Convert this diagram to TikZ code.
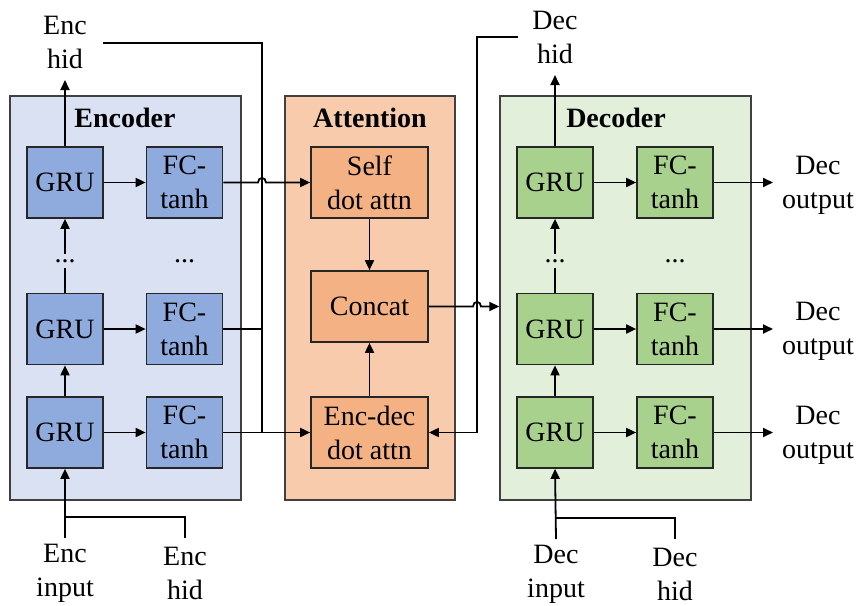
\documentclass[tikz,border=0pt]{standalone}
\usepackage{fontspec}
\setmainfont{Liberation Serif}
\usetikzlibrary{arrows.meta}
\definecolor{encbg}{HTML}{DAE1F3}
\definecolor{encbox}{HTML}{8FAADC}
\definecolor{attbg}{HTML}{F8CBAD}
\definecolor{attbox}{HTML}{F4B183}
\definecolor{decbg}{HTML}{E2EFDA}
\definecolor{decbox}{HTML}{A9D18E}
\definecolor{edge}{HTML}{404040}
\begin{document}
\begin{tikzpicture}[x=1pt,y=-1pt,
  font=\fontsize{28}{34}\selectfont,
  panel/.style={draw=edge, line width=1.4pt, inner sep=0pt},
  blk/.style={draw=black!85, line width=1.7pt, minimum width=76pt, minimum height=71pt,
    inner sep=0pt, align=center},
  ablk/.style={blk, minimum width=117pt, fill=attbox},
  ttl/.style={font=\fontsize{28}{34}\selectfont\bfseries, inner sep=0pt},
  lbl/.style={align=center, inner sep=0pt},
  dotsn/.style={inner sep=5pt},
  wire/.style={line width=1.8pt},
  arr/.style={wire, -{Triangle[length=10pt,width=9pt]}}]
\useasboundingbox (0,0) rectangle (856,605);

% panels
\node[panel, fill=encbg, minimum width=231pt, minimum height=404pt] (enc) at (125.5,298) {};
\node[panel, fill=attbg, minimum width=170pt, minimum height=404pt] (att) at (370,298) {};
\node[panel, fill=decbg, minimum width=251pt, minimum height=404pt] (dec) at (625.5,298) {};
\node[ttl] (enct) at (125,118) {Encoder};
\node[ttl] (attt) at (370,118) {Attention};
\node[ttl] (dect) at (616,118) {Decoder};

% encoder blocks
\node[blk, fill=encbox] (eg1) at (65,432.5) {GRU};
\node[blk, fill=encbox] (eg2) at (65,329) {GRU};
\node[blk, fill=encbox] (eg3) at (65,182.5) {GRU};
\node[blk, fill=encbox] (ef1) at (184.5,432.5) {FC-\\tanh};
\node[blk, fill=encbox] (ef2) at (184.5,329) {FC-\\tanh};
\node[blk, fill=encbox] (ef3) at (184.5,182.5) {FC-\\tanh};
\node[dotsn] (egd) at (65,261) {...};
\node[dotsn] (efd) at (184.5,261) {...};

% attention blocks
\node[ablk] (aself) at (369.5,182.5) {Self\\dot attn};
\node[ablk] (acat) at (369.5,306.5) {Concat};
\node[ablk] (aed) at (369.5,432.5) {Enc-dec\\dot attn};

% decoder blocks
\node[blk, fill=decbox] (dg1) at (555,432.5) {GRU};
\node[blk, fill=decbox] (dg2) at (555,329) {GRU};
\node[blk, fill=decbox] (dg3) at (555,182.5) {GRU};
\node[blk, fill=decbox] (df1) at (675,432.5) {FC-\\tanh};
\node[blk, fill=decbox] (df2) at (675,329) {FC-\\tanh};
\node[blk, fill=decbox] (df3) at (675,182.5) {FC-\\tanh};
\node[dotsn] (dgd) at (555,261) {...};
\node[dotsn] (dfd) at (675,261) {...};

% outer labels
\node[lbl] (ehidT) at (65,42) {Enc\\hid};
\node[lbl] (dhidT) at (555,37) {Dec\\hid};
\node[lbl] (einB) at (65,573) {Enc\\input};
\node[lbl] (ehidB) at (185,573) {Enc\\hid};
\node[lbl] (dinB) at (556,574) {Dec\\input};
\node[lbl] (dhidB) at (675,574) {Dec\\hid};
\node[lbl] (dout1) at (818,435) {Dec\\output};
\node[lbl] (dout2) at (818,331) {Dec\\output};
\node[lbl] (dout3) at (818,185) {Dec\\output};

% free ends and junctions
\coordinate (ehTip) at (65,80);
\coordinate (dhTip) at (555,75);
\coordinate (ehA) at (103,43);
\coordinate (ehB) at (262,43);
\coordinate (ejx) at (262,432.5);
\coordinate (dhA) at (518,37);
\coordinate (dhB) at (477,37);
\coordinate (outX) at (773,0);
\coordinate (einT) at (65,538);
\coordinate (ehbT) at (185,538);
\coordinate (ejn) at (65,517);
\coordinate (dinT) at (556,539);
\coordinate (dhbT) at (675,539);
\coordinate (djn) at (556,518);
\coordinate (hop1a) at (258,182.5);
\coordinate (hop1b) at (266,182.5);
\coordinate (hop2a) at (473,306.5);
\coordinate (hop2b) at (481,306.5);

% encoder wiring
\draw[arr] (eg1.north) -- (eg2.south);
\draw[wire] (eg2.north) -- (egd.south);
\draw[arr] (egd.north) -- (eg3.south);
\draw[arr] (eg3.north) -- (ehTip);
\foreach \r in {1,2,3} \draw[arr] (eg\r.east) -- (ef\r.west);
\draw[arr] (einT) -- (eg1.south);
\draw[wire] (ehbT) |- (ejn);

% encoder to attention
\draw[wire] (ehA) -- (ehB) -- (ejx);
\draw[wire] (ef2.east) -- (ef2.east -| ejx);
\draw[arr] (ef1.east) -- (aed.west);
\draw[arr] (ef3.east) -- (hop1a) .. controls (258,176.5) and (266,176.5) .. (hop1b) -- (aself.west);

% attention internals
\draw[arr] (aself.south) -- (acat.north);
\draw[arr] (aed.north) -- (acat.south);
\draw[arr] (acat.east) -- (hop2a) .. controls (473,300.5) and (481,300.5) .. (hop2b) -- (dec.west |- acat.east);
\draw[arr] (dhA) -- (dhB) -- (dhB |- aed.east) -- (aed.east);

% decoder wiring
\draw[arr] (dg1.north) -- (dg2.south);
\draw[wire] (dg2.north) -- (dgd.south);
\draw[arr] (dgd.north) -- (dg3.south);
\draw[arr] (dg3.north) -- (dhTip);
\foreach \r in {1,2,3} {
  \draw[arr] (dg\r.east) -- (df\r.west);
  \draw[arr] (df\r.east) -- (df\r.east -| outX);
}
\draw[arr] (dinT) -- (dg1.south);
\draw[wire] (dhbT) |- (djn);
\end{tikzpicture}
\end{document}
